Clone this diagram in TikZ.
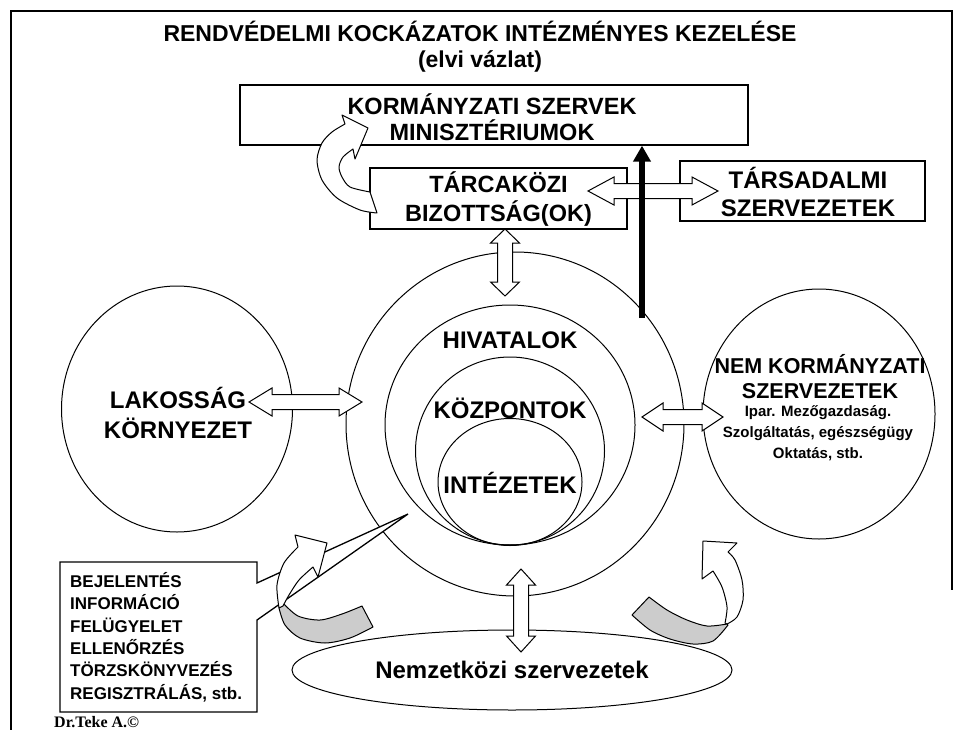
\documentclass[tikz,border=0pt]{standalone}
\usepackage{fontspec}
\setmainfont{Liberation Sans}
\newfontfamily\sigfont{Liberation Serif}
\usetikzlibrary{arrows.meta,shapes.geometric}

% horizontal block double arrow: left x, right x, centre y, head length
\newcommand\dblH[4]{\draw[blk] (#1,#3) -- ({#1+#4},{#3-14}) -- ({#1+#4},{#3-7.5}) -- ({#2-#4},{#3-7.5}) -- ({#2-#4},{#3-14}) -- (#2,#3) -- ({#2-#4},{#3+14}) -- ({#2-#4},{#3+7.5}) -- ({#1+#4},{#3+7.5}) -- ({#1+#4},{#3+14}) -- cycle;}
% vertical block double arrow: top y, bottom y, centre x, head length
\newcommand\dblV[4]{\draw[blk] (#3,#1) -- ({#3-14.5},{#1+#4}) -- ({#3-7.5},{#1+#4}) -- ({#3-7.5},{#2-#4}) -- ({#3-14.5},{#2-#4}) -- (#3,#2) -- ({#3+14.5},{#2-#4}) -- ({#3+7.5},{#2-#4}) -- ({#3+7.5},{#1+#4}) -- ({#3+14.5},{#1+#4}) -- cycle;}

\begin{document}
\begin{tikzpicture}[x=1pt,y=-1pt,
  lbl/.style={font=\bfseries\fontsize{24}{28}\selectfont, align=center, inner sep=0pt},
  box/.style={draw, line width=1.3pt, fill=white, inner sep=0pt},
  ring/.style={draw, line width=1pt, ellipse, inner sep=0pt},
  blk/.style={draw, fill=white, line width=1pt, line join=miter},
  ribbon/.style={draw, fill=black!20, line width=1pt, line join=round}]
\useasboundingbox (0,0) rectangle (960,730);

% page frame
\draw[line width=2pt] (11,730) -- (11,11) -- (952,11) -- (952,590);

% heading
\node[lbl, font=\bfseries\fontsize{23}{27}\selectfont] (title) at (480,31) {RENDVÉDELMI KOCKÁZATOK INTÉZMÉNYES KEZELÉSE};
\node[lbl, font=\bfseries\fontsize{23}{27}\selectfont] (subtitle) at (480,61) {(elvi vázlat)};

% nested institutional circles
\node[ring, minimum width=338pt, minimum height=344pt] (outer) at (515,424) {};
\node[ring, minimum width=250pt, minimum height=240pt] (hiv) at (510,425) {};
\node[ring, minimum width=189pt, minimum height=188pt] (kozp) at (510,451) {};
\node[ring, minimum width=144pt, minimum height=127pt] (intez) at (510,482) {};

% side circles
\node[ring, minimum width=231pt, minimum height=246pt] (lak) at (177,409) {};
\node[ring, minimum width=232pt, minimum height=250pt] (nem) at (819,414) {};

% international organisations
\node[ring, minimum width=440pt, minimum height=80pt,
      font=\bfseries\fontsize{24}{28}\selectfont] (nemzet) at (512,670) {Nemzetközi szervezetek};

% government boxes
\node[box, minimum width=508pt, minimum height=60pt] (korm) at (494,115) {};
\node[lbl, font=\bfseries\fontsize{23.5}{26}\selectfont] (kormT) at (492,117) {KORMÁNYZATI SZERVEK\\MINISZTÉRIUMOK};
\node[box, minimum width=257pt, minimum height=61pt] (tarca) at (498.5,198.5) {};
\node[lbl, font=\bfseries\fontsize{23.5}{29}\selectfont] (tarcaT) at (498.5,199) {TÁRCAKÖZI\\BIZOTTSÁG(OK)};
\node[box, minimum width=245pt, minimum height=60pt] (tars) at (802.5,191) {};
\node[lbl, font=\bfseries\fontsize{24}{28}\selectfont] (tarsT) at (808,192) {TÁRSADALMI\\SZERVEZETEK};

% curved feedback arrow at the ministries
\draw[blk, line join=round] (345,124) -- (342,115) -- (368,128) -- (355,159) -- (353,149)
  -- plot[smooth] coordinates {(353,149) (343,157) (339,167) (342,177) (350,187) (370,192)}
  -- (377,213)
  -- plot[smooth] coordinates {(377,213) (360,210) (337,198) (322,180) (317,160) (322,143) (332,132) (345,124)}
  -- cycle;

% double arrows
\dblH{588}{718}{191}{26}
\coordinate (thickfoot) at (642,318);
\draw[line width=6pt, -{Triangle[length=16pt,width=17pt]}] (thickfoot) -- (thickfoot |- korm.south);
\dblV{229}{296}{505}{14}
\dblH{249}{362}{402}{23}
\dblH{642}{723}{417}{21}
\dblV{569}{652}{521}{16}

% reporting callout
\coordinate (cTL) at (60,562);
\coordinate (cBR) at (257,712);
\coordinate (cTip) at (408,514);
\draw[line width=1.3pt, fill=white, line join=miter] (cTL) -- (cTL -| cBR) -- (257,583) -- (cTip)
  -- (257,620) -- (cBR) -- (cBR -| cTL) -- cycle;
\node[anchor=west, align=left, inner sep=0pt,
      font=\bfseries\fontsize{17}{22.4}\selectfont] (bej) at (70,637)
  {BEJELENTÉS\\INFORMÁCIÓ\\FELÜGYELET\\ELLENŐRZÉS\\TÖRZSKÖNYVEZÉS\\REGISZTRÁLÁS, stb.};

% ribbon arrow, lower left
\draw[ribbon] (283,603) -- plot[smooth] coordinates {(283,603) (298,616) (320,620) (342,614) (362,606)}
  -- (373,627)
  -- plot[smooth] coordinates {(373,627) (350,638) (325,643) (300,638) (285,625) (279,608)} -- cycle;
\draw[blk, line join=round] (298,547) -- (295,535) -- (327,543) -- (318,577) -- (313,567)
  -- plot[smooth] coordinates {(313,567) (299,580) (289,595) (283,606)}
  -- (279,608)
  -- plot[smooth] coordinates {(279,608) (277,585) (284,563) (298,547)} -- cycle;

% ribbon arrow, lower right
\draw[ribbon] (649,597) -- plot[smooth] coordinates {(649,597) (667,610) (687,620) (707,626) (727,624)}
  -- (728,625)
  -- plot[smooth] coordinates {(728,625) (713,641) (693,644) (670,639) (650,630) (632,615)} -- cycle;
\draw[blk, line join=round] (728,552) -- (737,543) -- (703,541) -- (702,579) -- (713,571)
  -- plot[smooth] coordinates {(713,571) (722,587) (727,607) (725,623)}
  -- (727,624)
  -- plot[smooth] coordinates {(727,624) (737,617) (743,600) (742,580) (735,560) (728,552)} -- cycle;

% circle labels
\node[lbl] (hivT) at (510,340) {HIVATALOK};
\node[lbl] (kozpT) at (510,408) {KÖZPONTOK};
\node[lbl] (intT) at (510,483) {INTÉZETEK};
\node[lbl, font=\bfseries\fontsize{24}{30}\selectfont] (lakT) at (178,413) {LAKOSSÁG\\KÖRNYEZET};
\node[lbl, font=\bfseries\fontsize{21.5}{25}\selectfont] (nemT) at (820,377) {NEM KORMÁNYZATI\\SZERVEZETEK};
\node[lbl, font=\bfseries\fontsize{15}{21}\selectfont] (nemS) at (818,433)
  {Ipar. Mezőgazdaság.\\Szolgáltatás, egészségügy\\Oktatás, stb.};

% signature
\node[anchor=west, inner sep=0pt, font=\sigfont\bfseries\fontsize{16}{19}\selectfont] (sig) at (54,722) {Dr.Teke A.©};
\end{tikzpicture}
\end{document}
